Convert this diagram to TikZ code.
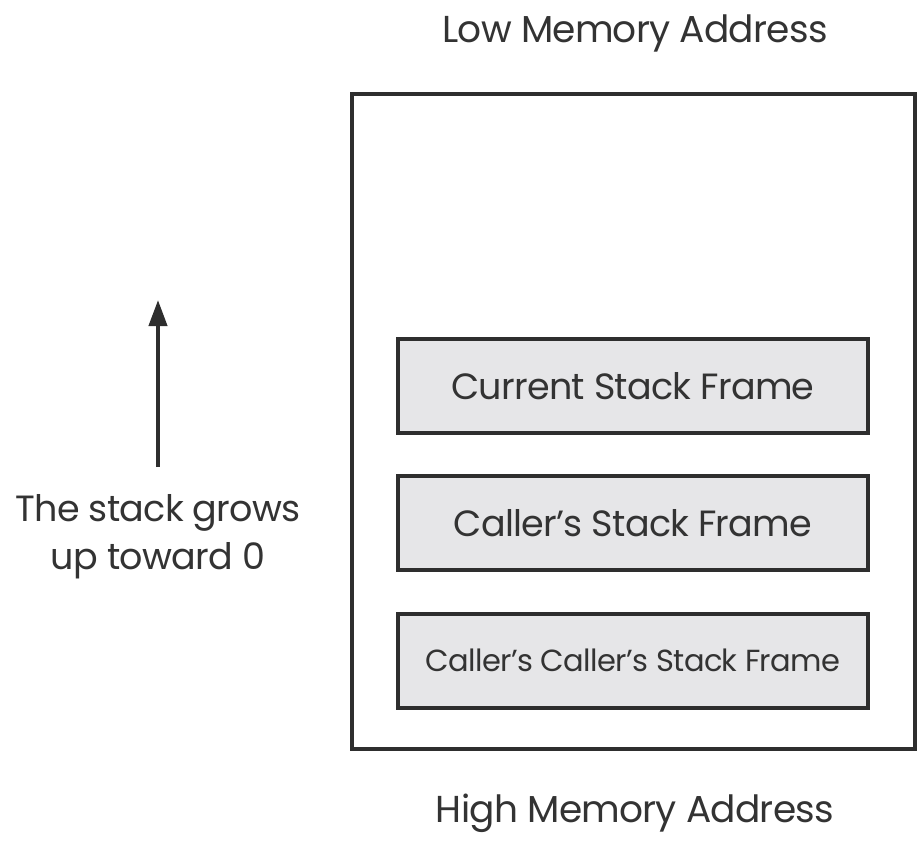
\documentclass[tikz,border=0pt]{standalone}
\usepackage{fontspec}
\setmainfont{Poppins}
\usetikzlibrary{arrows.meta}
\definecolor{linec}{HTML}{2E2E2E}
\definecolor{textc}{HTML}{333333}
\definecolor{framefill}{HTML}{E6E6E8}
\begin{document}
\begin{tikzpicture}[x=1pt,y=-1pt,
  lbl/.style={text=textc,font=\fontsize{37.5}{44}\selectfont\addfontfeature{LetterSpace=-2},inner sep=0pt},
  framebox/.style={draw=linec,line width=4pt,fill=framefill,minimum width=470pt,minimum height=94pt,inner sep=0pt,text=textc},
]
\useasboundingbox (0,0) rectangle (922,843);
\node[draw=linec,line width=3.5pt,minimum width=563pt,minimum height=655pt,inner sep=0pt] (mem) at (633.5,421.5) {};
\node[lbl] (low) at (635,33) {Low Memory Address};
\node[lbl] (high) at (635,813) {High Memory Address};
\node[framebox,font=\fontsize{36.5}{42}\selectfont\addfontfeature{LetterSpace=-2}] (cur) at (633,386) {Current Stack Frame};
\node[framebox,font=\fontsize{36.5}{42}\selectfont\addfontfeature{LetterSpace=-2}] (caller) at (633,523) {Caller’s Stack Frame};
\node[framebox,font=\fontsize{30.5}{36}\selectfont\addfontfeature{LetterSpace=-2}] (callercaller) at (633,660.5) {Caller’s Caller’s Stack Frame};
\node[lbl,align=center,font=\fontsize{36.5}{48}\selectfont\addfontfeature{LetterSpace=-2}] (grow) at (158,537) {The stack grows\\up toward 0};
\coordinate (tail) at (158,467);
\coordinate (tip) at (158,300);
\draw[linec,line width=4pt,-{Triangle[length=26pt,width=18pt]}] (tail) -- (tip);
\end{tikzpicture}
\end{document}
